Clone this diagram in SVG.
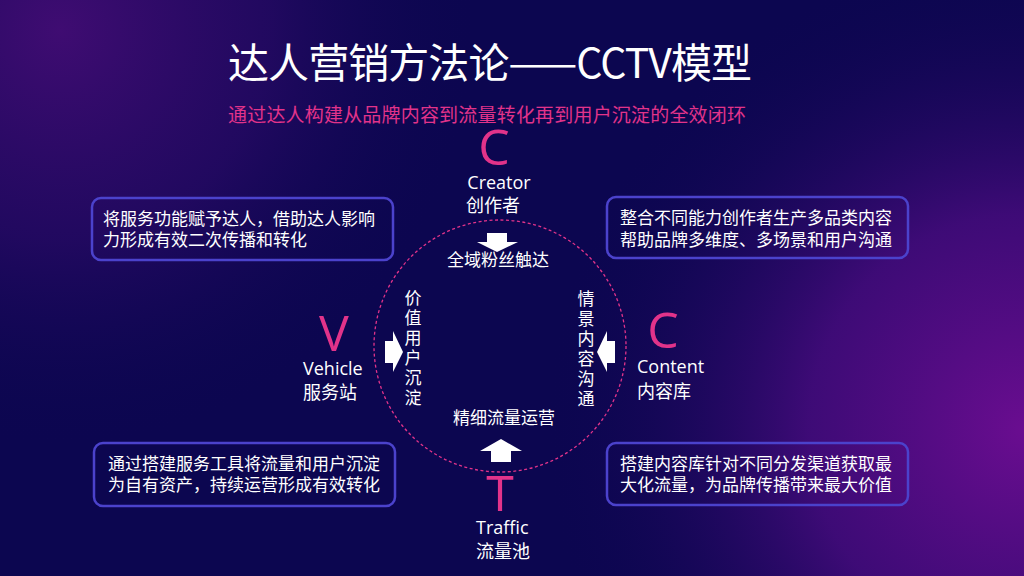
<svg xmlns="http://www.w3.org/2000/svg" width="1024" height="576" viewBox="0 0 1024 576">
<defs>
<radialGradient id="tl" cx="60" cy="30" r="420" gradientUnits="userSpaceOnUse">
<stop offset="0" stop-color="#3f0c72"/>
<stop offset="0.5" stop-color="#2a0a66" stop-opacity="0.7"/>
<stop offset="1" stop-color="#0c0650" stop-opacity="0"/>
</radialGradient>
<radialGradient id="br" cx="1024" cy="430" r="480" gradientUnits="userSpaceOnUse">
<stop offset="0" stop-color="#6a0d90"/>
<stop offset="0.45" stop-color="#4a0c80" stop-opacity="0.8"/>
<stop offset="1" stop-color="#0c0650" stop-opacity="0"/>
</radialGradient>
<style>
.w{fill:#ffffff;font-family:"Noto Sans CJK SC","Noto Sans",sans-serif}
.en{fill:#ffffff;font-family:"Open Sans","Noto Sans",sans-serif;font-size:18px}
.big{fill:#e2338a;font-family:"Open Sans","Noto Sans",sans-serif;font-size:50px;text-anchor:middle}
.box{fill:none;stroke:#4b42cc;stroke-width:2.5}
.bt{fill:#ffffff;font-family:"Noto Sans CJK SC",sans-serif;font-size:17px}
.arr{fill:#ffffff}
.vt{fill:#ffffff;font-family:"Noto Sans CJK SC",sans-serif;font-size:17px;writing-mode:vertical-rl;letter-spacing:3px}
</style>
</defs>
<rect width="1024" height="576" fill="#0c0650"/>
<rect width="1024" height="576" fill="url(#tl)"/>
<rect width="1024" height="576" fill="url(#br)"/>

<text x="490" y="78" class="w" font-size="41" text-anchor="middle" textLength="524">达人营销方法论——CCTV模型</text>
<text x="487" y="122" fill="#e2338a" font-family="Noto Sans CJK SC,sans-serif" font-size="19" text-anchor="middle" textLength="518">通过达人构建从品牌内容到流量转化再到用户沉淀的全效闭环</text>

<g id="connectors">
<circle cx="500" cy="346" r="126" fill="none" stroke="#e2338a" stroke-width="1.3" stroke-dasharray="3,2.5"/>
<path class="arr" d="M487,233 H507 V242 H518 L497,252 L477,242 H487 Z"/>
<path class="arr" d="M511,462 H491 V451 H480 L501,439 L522,451 H511 Z"/>
<path class="arr" d="M385,341 H393 V331 L403,352 L393,372 V363 H385 Z"/>
<path class="arr" d="M615,341 H607 V331 L597,352 L607,372 V363 H615 Z"/>
</g>

<g id="creator">
<text x="494" y="165" class="big">C</text>
<text x="499" y="189" class="en" text-anchor="middle">Creator</text>
<text x="493" y="212" class="w" font-size="18" text-anchor="middle">创作者</text>
</g>
<g id="vehicle">
<text x="334" y="351" class="big">V</text>
<text x="303" y="375" class="en">Vehicle</text>
<text x="303" y="399" class="w" font-size="18">服务站</text>
</g>
<g id="content">
<text x="663" y="348" class="big">C</text>
<text x="637" y="373" class="en">Content</text>
<text x="637" y="398" class="w" font-size="18">内容库</text>
</g>
<g id="traffic">
<text x="500" y="511" class="big">T</text>
<text x="476" y="534" class="en">Traffic</text>
<text x="476" y="558" class="w" font-size="18">流量池</text>
</g>

<g id="inner-top"><text x="498" y="266" class="w" font-size="17" text-anchor="middle">全域粉丝触达</text></g>
<g id="inner-bottom"><text x="504" y="424" class="w" font-size="17" text-anchor="middle">精细流量运营</text></g>
<g id="inner-left"><text x="413" y="289" class="vt">价值用户沉淀</text></g>
<g id="inner-right"><text x="586" y="290" class="vt">情景内容沟通</text></g>

<g id="box-tl">
<rect x="92" y="198" width="301" height="62" rx="9" class="box"/>
<text x="103" y="225" class="bt">将服务功能赋予达人，借助达人影响</text>
<text x="103" y="246" class="bt">力形成有效二次传播和转化</text>
</g>
<g id="box-tr">
<rect x="607" y="197" width="301" height="61" rx="9" class="box"/>
<text x="620" y="224" class="bt">整合不同能力创作者生产多品类内容</text>
<text x="620" y="246" class="bt">帮助品牌多维度、多场景和用户沟通</text>
</g>
<g id="box-bl">
<rect x="94" y="443" width="301" height="63" rx="9" class="box"/>
<text x="108" y="470" class="bt">通过搭建服务工具将流量和用户沉淀</text>
<text x="108" y="491" class="bt">为自有资产，持续运营形成有效转化</text>
</g>
<g id="box-br">
<rect x="607" y="443" width="301" height="62" rx="9" class="box"/>
<text x="620" y="470" class="bt">搭建内容库针对不同分发渠道获取最</text>
<text x="620" y="491" class="bt">大化流量，为品牌传播带来最大价值</text>
</g>
</svg>
